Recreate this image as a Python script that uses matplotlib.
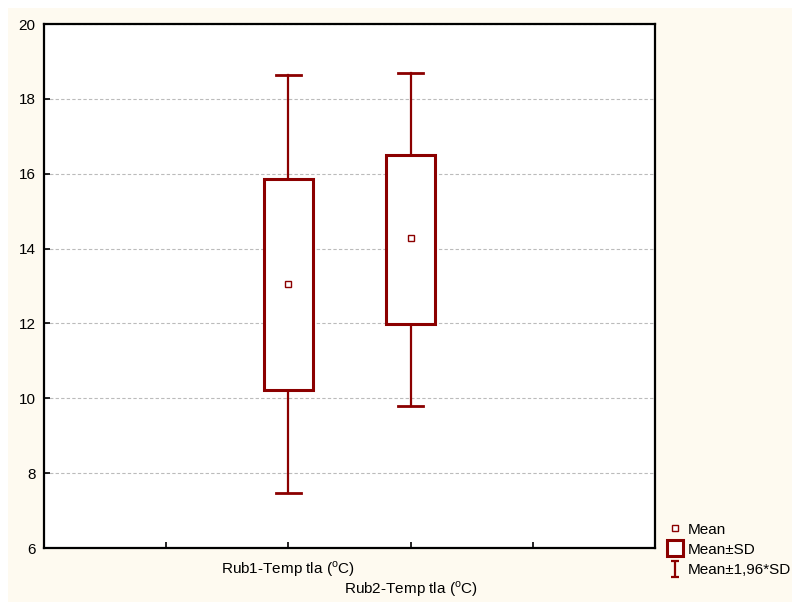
import numpy as np
import matplotlib
matplotlib.use('Agg')
import matplotlib.pyplot as plt
from matplotlib.lines import Line2D
from matplotlib.path import Path
from matplotlib.patches import Rectangle

plt.rcParams['font.family'] = ['Liberation Sans', 'DejaVu Sans']
plt.rcParams['mathtext.fontset'] = 'custom'
plt.rcParams['mathtext.rm'] = 'Liberation Sans'

# values
labels = ['Rub1-Temp tla ($^{\\mathrm{o}}$C)', 'Rub2-Temp tla ($^{\\mathrm{o}}$C)']
means = [13.05, 14.28]
sd_lo = [10.22, 11.98]
sd_hi = [15.86, 16.50]
ci_lo = [7.47, 9.79]
ci_hi = [18.64, 18.69]
legend_labels = ['Mean', 'Mean±SD', 'Mean±1,96*SD']

red = '#8B0000'
positions = [2, 3]
box_w = 0.4
cap_w = 0.2

fig = plt.figure(figsize=(7.92, 6.02), dpi=100, facecolor='white')
# cream panel behind everything
fig.patches.append(Rectangle((8 / 792, 0), 1, 1 - 8 / 602, transform=fig.transFigure,
                             facecolor='#FEFAF0', edgecolor='none', zorder=-10))
ax = fig.add_axes([44 / 792, 54 / 602, 611 / 792, 524 / 602])
ax.set_facecolor('white')

for x, m, lo, hi, wlo, whi in zip(positions, means, sd_lo, sd_hi, ci_lo, ci_hi):
    # whiskers
    ax.plot([x, x], [hi, whi], color=red, lw=1.6, zorder=2)
    ax.plot([x, x], [wlo, lo], color=red, lw=1.6, zorder=2)
    ax.plot([x - cap_w / 2, x + cap_w / 2], [whi, whi], color=red, lw=2, zorder=2)
    ax.plot([x - cap_w / 2, x + cap_w / 2], [wlo, wlo], color=red, lw=2, zorder=2)
    # box
    ax.add_patch(Rectangle((x - box_w / 2, lo), box_w, hi - lo, facecolor='white',
                           edgecolor=red, lw=2.2, zorder=3))
    ax.plot([x], [m], marker='s', ms=4.5, mfc='white', mec=red, mew=1, ls='none', zorder=4)

ax.set_xlim(0, 5)
ax.set_ylim(6, 20)
ax.set_yticks(np.arange(6, 21, 2))
ax.set_xticks([1, 2, 3, 4])
ax.set_xticklabels([''] + labels + [''])
ax.tick_params(axis='both', direction='in', length=4, width=1.2, labelsize=11, colors='black')
ax.tick_params(axis='y', pad=6)
ticks = ax.xaxis.get_major_ticks()
ticks[1].set_pad(8)
ticks[2].set_pad(22.5)

ax.grid(axis='y', color='#BBBBBB', ls=(0, (3, 2)), lw=0.8)
ax.set_axisbelow(True)
for sp in ax.spines.values():
    sp.set_linewidth(1.6)
    sp.set_color('black')

# legend with custom I-bar marker
ibar = Path([(-0.5, 1), (0.5, 1), (0, 1), (0, -1), (-0.5, -1), (0.5, -1)],
            [Path.MOVETO, Path.LINETO, Path.MOVETO, Path.LINETO, Path.MOVETO, Path.LINETO])
handles = [
    Line2D([], [], marker='s', ms=4.5, mfc='white', mec=red, mew=1, ls='none'),
    Line2D([], [], marker='s', ms=11, mfc='white', mec=red, mew=2.2, ls='none'),
    Line2D([], [], marker=ibar, ms=12, mfc='none', mec=red, mew=1.6, ls='none'),
]
fig.legend(handles, legend_labels, loc='upper left', bbox_to_anchor=(657 / 792, 1 - 512 / 602),
           frameon=False, fontsize=11, handlelength=1.0, handletextpad=0.3,
           labelspacing=0.4, borderpad=0.2)

fig.savefig('out.png', dpi=100, facecolor=fig.get_facecolor())
